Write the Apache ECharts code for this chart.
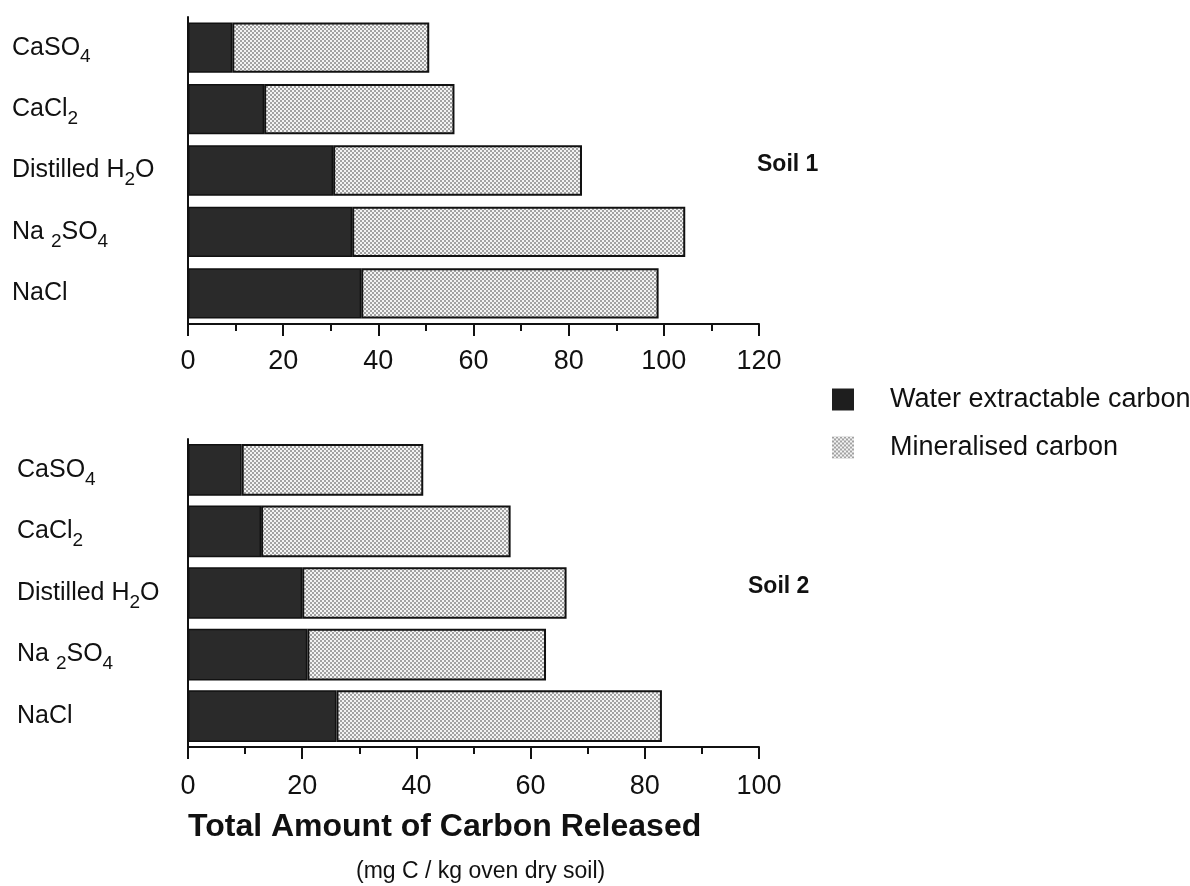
<!DOCTYPE html>
<html>
<head>
<meta charset="utf-8">
<script src="https://cdn.jsdelivr.net/npm/echarts@6/dist/echarts.min.js"></script>
<style>
  html, body { margin: 0; padding: 0; background: #fff; }
  #chart { width: 1190px; height: 886px; }
</style>
</head>
<body>
<div id="chart"></div>
<script>
// Treatments, listed top to bottom
const categories = ['CaSO4', 'CaCl2', 'Distilled H2O', 'Na2SO4', 'NaCl'];

// Soil 1 (mg C / kg oven dry soil)
const soil1Water   = [9.3, 16.0, 30.5, 34.5, 36.4];
const soil1Mineral = [41.4, 40.0, 52.3, 70.0, 62.5];

// Soil 2 (mg C / kg oven dry soil)
const soil2Water   = [9.4, 12.8, 20.0, 20.9, 26.0];
const soil2Mineral = [31.8, 43.7, 46.3, 41.8, 57.0];

// Value axis ranges
const soil1Axis = { min: 0, max: 120, interval: 20 };
const soil2Axis = { min: 0, max: 100, interval: 20 };

const seriesNames = ['Water extractable carbon', 'Mineralised carbon'];

// Chemical formulae with subscripts, as rich text
const formula = {
  'CaSO4': 'CaSO{s|4}',
  'CaCl2': 'CaCl{s|2}',
  'Distilled H2O': 'Distilled H{s|2}O',
  'Na2SO4': 'Na {s|2}SO{s|4}',
  'NaCl': 'NaCl'
};

const FONT = '"Liberation Sans", Arial, Helvetica, sans-serif';
const INK = '#111';

// Fine dotted screen used for the mineralised portion
function stipple() {
  const c = document.createElement('canvas');
  c.width = c.height = 4;
  const g = c.getContext('2d');
  g.fillStyle = '#f3f3f3';
  g.fillRect(0, 0, 4, 4);
  g.fillStyle = '#a2a2a2';
  g.fillRect(0, 0, 2, 2);
  g.fillRect(2, 2, 2, 2);
  return c;
}
const dotFill = { image: stipple(), repeat: 'repeat' };

function categoryAxis(gridIndex, margin) {
  return {
    type: 'category',
    gridIndex,
    data: categories,
    inverse: true,
    axisLine: { lineStyle: { color: INK, width: 2 } },
    axisTick: { length: 5, lineStyle: { color: INK, width: 2 } },
    axisLabel: {
      margin,
      align: 'left',
      color: INK,
      fontFamily: FONT,
      fontSize: 25,
      lineHeight: 38,
      formatter: v => formula[v],
      rich: {
        s: { fontFamily: FONT, fontSize: 19, color: INK, lineHeight: 19, verticalAlign: 'bottom' }
      }
    }
  };
}

function valueAxis(gridIndex, range, labelMargin) {
  return {
    type: 'value',
    gridIndex,
    min: range.min,
    max: range.max,
    interval: range.interval,
    splitLine: { show: false },
    axisLine: { show: true, lineStyle: { color: INK, width: 2 } },
    axisTick: { show: true, length: 12, lineStyle: { color: INK, width: 2 } },
    minorTick: { show: true, splitNumber: 2, length: 7, lineStyle: { color: INK, width: 2 } },
    axisLabel: { margin: labelMargin, color: INK, fontFamily: FONT, fontSize: 27 }
  };
}

function barPair(idx, water, mineral, gap) {
  return [
    {
      name: seriesNames[0], type: 'bar', stack: 'soil' + idx,
      xAxisIndex: idx, yAxisIndex: idx,
      barCategoryGap: gap,
      data: water,
      itemStyle: { color: '#2a2a2a', borderColor: INK, borderWidth: 1.5 },
      silent: true
    },
    {
      name: seriesNames[1], type: 'bar', stack: 'soil' + idx,
      xAxisIndex: idx, yAxisIndex: idx,
      barCategoryGap: gap,
      data: mineral,
      itemStyle: { color: dotFill, borderColor: INK, borderWidth: 2 },
      silent: true
    }
  ];
}

const chart = echarts.init(document.getElementById('chart'), null, { renderer: 'canvas' });

chart.setOption({
  backgroundColor: '#fff',
  animation: false,
  textStyle: { fontFamily: FONT, color: INK },
  title: [
    { text: 'Soil 1', left: 757, top: 153, padding: 0,
      textStyle: { fontFamily: FONT, fontSize: 23, fontWeight: 'bold', color: INK } },
    { text: 'Soil 2', left: 748, top: 575, padding: 0,
      textStyle: { fontFamily: FONT, fontSize: 23, fontWeight: 'bold', color: INK } },
    { text: 'Total Amount of Carbon Released', left: 188, top: 811, padding: 0,
      textStyle: { fontFamily: FONT, fontSize: 32, fontWeight: 'bold', color: INK } },
    { text: '(mg C / kg oven dry soil)', left: 356, top: 860, padding: 0,
      textStyle: { fontFamily: FONT, fontSize: 23, fontWeight: 'normal', color: INK } }
  ],
  legend: {
    orient: 'vertical',
    left: 832,
    top: 386,
    itemWidth: 22,
    itemHeight: 22,
    itemGap: 21,
    selectedMode: false,
    padding: 0,
    data: [
      { name: seriesNames[0], icon: 'rect', itemStyle: { color: '#1e1e1e', borderWidth: 0 } },
      { name: seriesNames[1], icon: 'rect', itemStyle: { color: dotFill, borderWidth: 0 } }
    ],
    textStyle: { fontFamily: FONT, fontSize: 27, color: INK, padding: [0, 0, 0, 31] }
  },
  grid: [
    { left: 188, top: 17, width: 571, height: 307 },
    { left: 188, top: 439, width: 571, height: 308 }
  ],
  yAxis: [categoryAxis(0, 176), categoryAxis(1, 171)],
  xAxis: [valueAxis(0, soil1Axis, 24), valueAxis(1, soil2Axis, 26)],
  series: [
    ...barPair(0, soil1Water, soil1Mineral, '18%'),
    ...barPair(1, soil2Water, soil2Mineral, '16%')
  ]
});
</script>
</body>
</html>
